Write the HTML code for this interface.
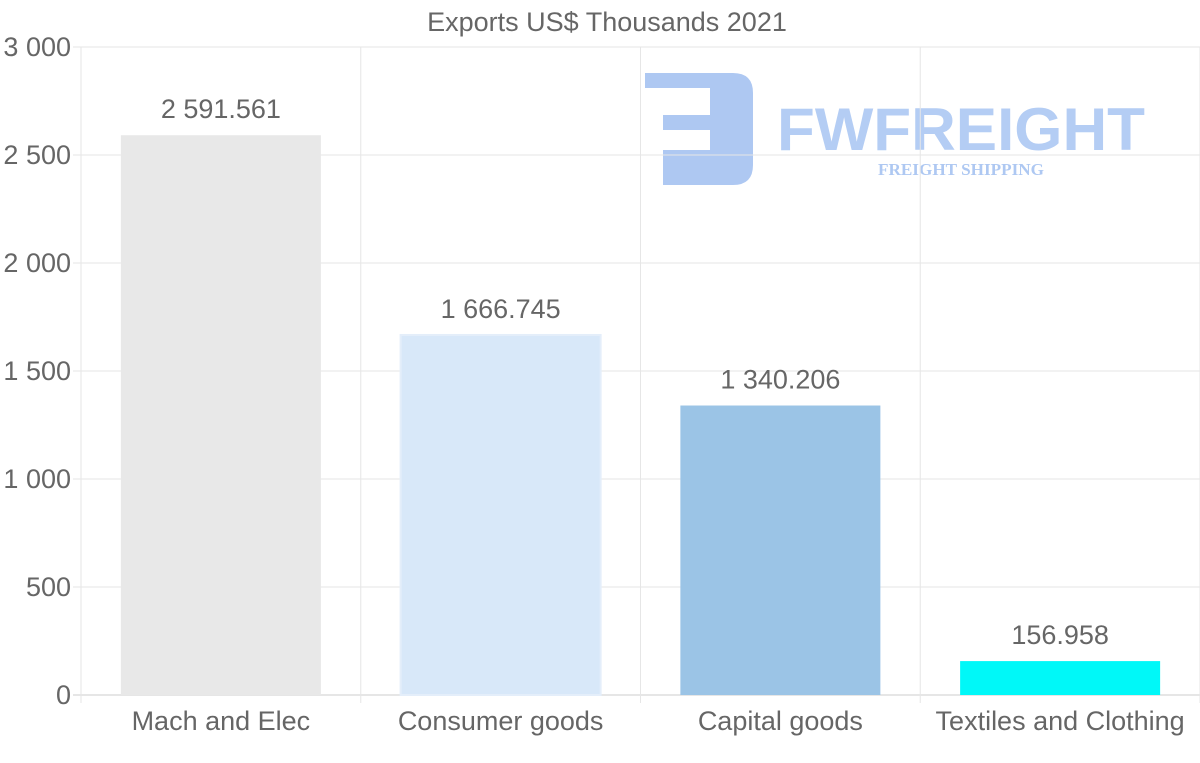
<!DOCTYPE html>
<html><head><meta charset="utf-8"><style>
body{margin:0;background:#fff;}
svg{display:block;font-family:"Liberation Sans",sans-serif;}
</style></head><body>
<svg id="chart" width="1200" height="763" xmlns="http://www.w3.org/2000/svg">
<g fill="#aec8f2">
<path d="M645 73 H733 Q753 73 753 93 V165 Q753 185 733 185 H663 V150 H710 V130 H663 V115 H710 V88 H645 Z"/>
<text x="777" y="150" font-size="60" font-weight="bold" textLength="368" lengthAdjust="spacingAndGlyphs" fill="#b4cdf4">FWFREIGHT</text>
<text x="878" y="175" font-family="Liberation Serif,serif" font-size="17" font-weight="bold" textLength="166" lengthAdjust="spacingAndGlyphs">FREIGHT SHIPPING</text>
</g>
<text x="607" y="31" text-anchor="middle" font-size="27" fill="#666">Exports US$ Thousands 2021</text>
<g id="grid"></g><g id="bars"></g><g id="labels"></g>
</svg>
<script>
const categories=["Mach and Elec","Consumer goods","Capital goods","Textiles and Clothing"];
const values=[2591.561,1666.745,1340.206,156.958];
const valueLabels=["2 591.561","1 666.745","1 340.206","156.958"];
const yTicks=[0,500,1000,1500,2000,2500,3000];
const yTickLabels=["0","500","1 000","1 500","2 000","2 500","3 000"];
const colors=["#e8e8e8","#d8e8f9","#9bc4e6","#00f8f8"];
const NS="http://www.w3.org/2000/svg";
const L=81,R=1200,T=47,B=695,yMax=3000;
const y=v=>B-(v/yMax)*(B-T);
const bw=(R-L)/categories.length;
const x=i=>L+bw*i;
function mk(t,a,p){const e=document.createElementNS(NS,t);for(const k in a)e.setAttribute(k,a[k]);p.appendChild(e);return e;}
const g=document.getElementById('grid'),bg=document.getElementById('bars'),lg=document.getElementById('labels');
yTicks.forEach((t,i)=>{
 const l=mk('line',{x1:L-8,x2:R,y1:y(t),y2:y(t),stroke:t===0?'#ccc':'#e6e6e6'},g);
 
 
 const tx=mk('text',{x:71,y:y(t)+9,'text-anchor':'end','font-size':27,fill:'#666'},g);
 tx.textContent=yTickLabels[i];
 
 
});
for(let i=0;i<=categories.length;i++){
 const l=mk('line',{x1:x(i),x2:x(i),y1:T,y2:B+8,stroke:'#e6e6e6'},g);
 
 
}
categories.forEach((c,i)=>{
 const cx=x(i)+bw/2;
 const r=mk('rect',{x:cx-100,y:y(values[i]),width:200,height:B-y(values[i]),fill:colors[i],stroke:i===1?'#e4eefa':'none','stroke-width':2},bg);
 
 
 const vt=mk('text',{x:cx,y:y(values[i])-17,'text-anchor':'middle','font-size':27,fill:'#666'},lg);
 vt.textContent=valueLabels[i];
 
 
 const ct=mk('text',{x:cx,y:730,'text-anchor':'middle','font-size':27,fill:'#666'},lg);
 ct.textContent=c;
 
 
});
</script>
</body></html>
